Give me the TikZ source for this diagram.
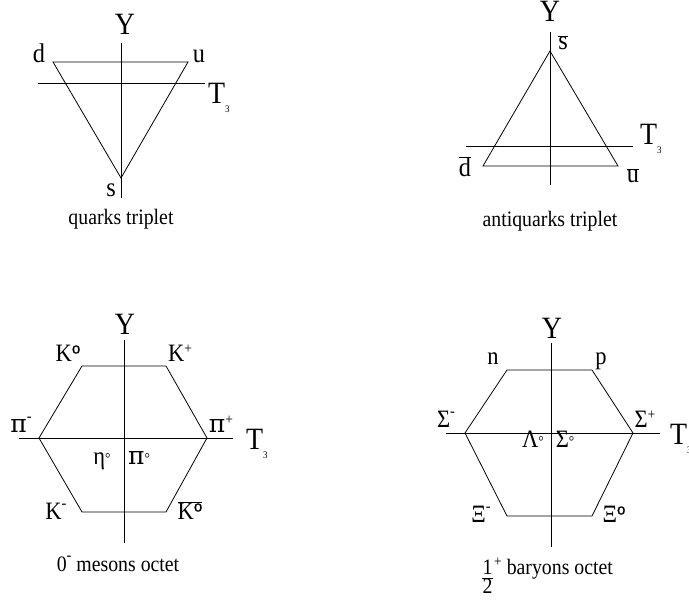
\documentclass[tikz,border=0pt]{standalone}
\usepackage{fontspec}
\setmainfont[FakeStretch=0.9]{Liberation Serif}
\newfontfamily\grk{DejaVu Serif}
\newfontfamily\osf[FakeBold=1.2]{Liberation Sans}
\begin{document}
\begin{tikzpicture}[x=1pt,y=-1pt,
  ln/.style={line width=0.8pt},
  axl/.style={font=\fontsize{31}{31}\selectfont, inner sep=0pt, anchor=base},
  lab/.style={font=\fontsize{27}{27}\selectfont, inner sep=0pt, anchor=base},
  plab/.style={font=\fontsize{25}{25}\selectfont, inner sep=0pt, anchor=base},
  captxt/.style={font=\fontsize{22}{22}\selectfont, inner sep=0pt, anchor=base}]
\useasboundingbox (0,0) rectangle (689,601);
\newcommand{\Tthree}{T\raisebox{-9pt}{\fontsize{10}{10}\selectfont 3}}
\newcommand{\bbar}[1]{$\overline{\mbox{#1}}$}
\newcommand{\supo}{\raisebox{8.5pt}{\osf\fontsize{15}{15}\selectfont o}}
\newcommand{\supd}{\raisebox{1pt}{\fontsize{15}{15}\selectfont °}}
\newcommand{\supm}{\raisebox{11pt}{\fontsize{16}{16}\selectfont -}}
\newcommand{\supp}{\raisebox{8pt}{\fontsize{15}{15}\selectfont +}}
\newcommand{\pii}{{\grk\fontsize{25}{25}\selectfont π}}
% ---------- quarks triplet ----------
\coordinate (qyt) at (121,43); \coordinate (qyb) at (121,198);
\coordinate (qtl) at (38,83);  \coordinate (qtr) at (205,83);
\coordinate (qd) at (53,62); \coordinate (qu) at (188,62); \coordinate (qs) at (121,178);
\draw[ln] (qyt) -- (qyb);
\draw[ln] (qtl) -- (qtr);
\draw[ln] (qd) -- (qu) -- (qs) -- cycle;
\node[axl] (qY) at (125,35) {Y};
\node[axl,anchor=base west] (qT) at (208,104) {\Tthree};
\node[lab] (qdl) at (39,63) {d};
\node[lab] (qul) at (199,63) {u};
\node[lab] (qsl) at (111,197) {s};
\node[captxt] (qcap) at (121,225) {quarks triplet};
% ---------- antiquarks triplet ----------
\coordinate (ayt) at (550,32); \coordinate (ayb) at (550,185);
\coordinate (atl) at (466,146); \coordinate (atr) at (633,146);
\coordinate (as) at (550,51); \coordinate (ad) at (483,166); \coordinate (au) at (618,166);
\draw[ln] (ayt) -- (ayb);
\draw[ln] (atl) -- (atr);
\draw[ln] (as) -- (au) -- (ad) -- cycle;
\node[axl] (aY) at (550,22) {Y};
\node[axl,anchor=base west] (aT) at (640,145) {\Tthree};
\node[lab] (asl) at (563,50) {\bbar{s}};
\node[lab] (adl) at (465,177) {\bbar{d}};
\node[lab] (aul) at (633,183) {\bbar{u}};
\node[captxt] (acap) at (550,227) {antiquarks triplet};
% ---------- mesons octet ----------
\coordinate (myt) at (124,340); \coordinate (myb) at (124,543);
\coordinate (mtl) at (19,438); \coordinate (mtr) at (233,438);
\coordinate (m1) at (82,366); \coordinate (m2) at (166,366); \coordinate (m3) at (207,438);
\coordinate (m4) at (166,512); \coordinate (m5) at (82,512); \coordinate (m6) at (39,438);
\draw[ln] (myt) -- (myb);
\draw[ln] (mtl) -- (mtr);
\draw[ln] (m1) -- (m2) -- (m3) -- (m4) -- (m5) -- (m6) -- cycle;
\node[axl] (mY) at (125,335) {Y};
\node[axl,anchor=base west] (mT) at (246,450) {\Tthree};
\node[plab] (mk0) at (68,362) {K\supo};
\node[plab] (mkp) at (180,362) {K\supp};
\node[plab] (mpim) at (21,433) {\pii\supm};
\node[plab] (mpip) at (221,433) {\pii\supp};
\node[plab] (meta) at (102,465) {η\supd};
\node[plab] (mpi0) at (139,465) {\pii\supd};
\node[plab] (mkm) at (56,520) {K\supm};
\node[plab] (mk0b) at (190,520) {$\overline{\mbox{K\supo}}$};
\node[captxt] (mcap) at (118,572) {0\supm\ mesons octet};
% ---------- baryons octet ----------
\coordinate (byt) at (551,343); \coordinate (byb) at (551,547);
\coordinate (btl) at (446,433); \coordinate (btr) at (660,433);
\coordinate (b1) at (507,370); \coordinate (b2) at (592,370); \coordinate (b3) at (633,433);
\coordinate (b4) at (592,516); \coordinate (b5) at (507,516); \coordinate (b6) at (465,433);
\draw[ln] (byt) -- (byb);
\draw[ln] (btl) -- (btr);
\draw[ln] (b1) -- (b2) -- (b3) -- (b4) -- (b5) -- (b6) -- cycle;
\node[axl] (bY) at (552,339) {Y};
\node[axl,anchor=base west] (bT) at (670,445) {\Tthree};
\node[plab] (bn) at (493,365) {n};
\node[plab] (bp) at (601,365) {p};
\node[plab] (bsm) at (446,428) {Σ\supm};
\node[plab] (bsp) at (645,428) {Σ\supp};
\node[plab] (bl0) at (533,448) {Λ\supd};
\node[plab] (bs0) at (565,448) {Σ\supd};
\node[plab] (bxm) at (481,523) {Ξ\supm};
\node[plab] (bx0) at (614,523) {Ξ\supo};
\node[captxt] (bnum) at (487.5,575) {1};
\node[captxt] (bden) at (487.5,594) {2};
\coordinate (fbl) at (482,578.5); \coordinate (fbr) at (493,578.5);
\draw[line width=0.7pt] (fbl) -- (fbr);
\node[captxt,anchor=base west] (bcap) at (494,575) {\supp\ baryons octet};
\end{tikzpicture}
\end{document}
